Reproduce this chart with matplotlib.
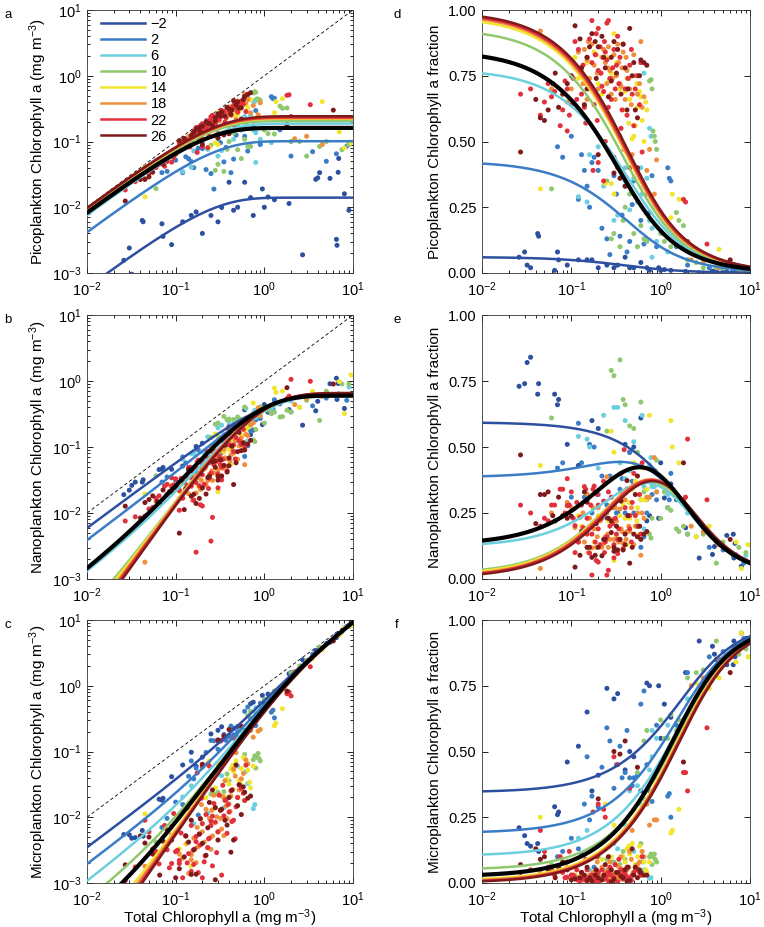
import numpy as np
import matplotlib
matplotlib.use('Agg')
import matplotlib.pyplot as plt
from matplotlib.ticker import LogLocator, FixedLocator, FormatStrFormatter, NullFormatter

plt.rcParams['font.family'] = ['Liberation Sans', 'DejaVu Sans']
plt.rcParams['mathtext.fontset'] = 'custom'
plt.rcParams['mathtext.rm'] = 'Liberation Sans'
plt.rcParams['mathtext.it'] = 'Liberation Sans:italic'
plt.rcParams['mathtext.bf'] = 'Liberation Sans:bold'

# ---------------- temperature classes ----------------
temp_labels = ['\u22122', '2', '6', '10', '14', '18', '22', '26']
colors = ['#2d4f9f', '#3a7cc6', '#6ccfe0', '#8fc86e', '#f2e52e', '#ef8f3c', '#e2303c', '#7f1a1a']

# model parameters (per class, then all data)
cm_pico = [0.014, 0.101, 0.187, 0.205, 0.222, 0.226, 0.232, 0.242]
d_pico = [0.061, 0.425, 0.775, 0.93, 0.975, 0.985, 0.99, 0.995]
cm_picnano = [0.62, 0.70, 0.78, 0.82, 0.85, 0.87, 0.88, 0.90]
d_picnano = [0.655, 0.81, 0.897, 0.95, 0.99, 0.994, 0.997, 0.999]
cm_pico_all = 0.161
d_pico_all = 0.845
cm_picnano_all = 0.76
d_picnano_all = 0.975

# ---------------- samples: total chl, pico fraction, micro fraction ----------------
chl_m2 = [0.026, 0.030, 0.032, 0.035, 0.042, 0.043, 0.065, 0.070, 0.072, 0.090, 0.120, 0.150,
          0.170, 0.200, 0.250, 0.300, 0.330, 0.400, 0.450, 0.500, 0.600, 0.700, 0.750, 0.950,
          1.000, 1.100, 1.300, 1.900, 2.700, 3.800, 4.000, 4.200, 5.500, 6.500, 6.600, 6.800,
          6.900, 8.000, 9.000]
pico_m2 = [0.06, 0.08, 0.03, 0.02, 0.15, 0.14, 0.01, 0.08, 0.05, 0.03, 0.05, 0.05,
           0.05, 0.02, 0.03, 0.02, 0.03, 0.06, 0.02, 0.02, 0.04, 0.02, 0.01, 0.02,
           0.01, 0.013, 0.01, 0.006, 0.0007, 0.007, 0.007, 0.008, 0.005, 0.0005, 0.0004, 0.005,
           0.008, 0.002, 0.001]
micro_m2 = [0.21, 0.18, 0.15, 0.14, 0.15, 0.12, 0.29, 0.26, 0.27, 0.46, 0.52, 0.65,
            0.35, 0.41, 0.74, 0.70, 0.72, 0.43, 0.50, 0.48, 0.35, 0.76, 0.75, 0.75,
            0.55, 0.68, 0.63, 0.80, 0.92, 0.90, 0.87, 0.85, 0.83, 0.83, 0.92, 0.86,
            0.90, 0.95, 0.93]

chl_2 = [0.070, 0.080, 0.100, 0.120, 0.130, 0.140, 0.150, 0.160, 0.170, 0.180, 0.200, 0.220,
         0.250, 0.270, 0.300, 0.320, 0.350, 0.370, 0.400, 0.420, 0.450, 0.480, 0.500, 0.550,
         0.600, 0.650, 0.700, 0.750, 0.800, 0.900, 1.200, 1.250, 1.300, 1.500, 2.000, 3.500,
         5.000, 6.500, 8.500]
pico_2 = [0.48, 0.44, 0.52, 0.28, 0.45, 0.39, 0.33, 0.25, 0.42, 0.44, 0.39, 0.17,
          0.13, 0.07, 0.37, 0.30, 0.14, 0.22, 0.33, 0.08, 0.12, 0.26, 0.35, 0.39,
          0.20, 0.11, 0.30, 0.23, 0.37, 0.10, 0.40, 0.36, 0.35, 0.10, 0.03, 0.02,
          0.01, 0.01, 0.01]
micro_2 = [0.10, 0.12, 0.17, 0.13, 0.11, 0.30, 0.48, 0.24, 0.33, 0.06, 0.29, 0.44,
           0.59, 0.54, 0.36, 0.45, 0.52, 0.40, 0.42, 0.58, 0.40, 0.37, 0.40, 0.41,
           0.68, 0.73, 0.45, 0.35, 0.31, 0.60, 0.33, 0.34, 0.25, 0.60, 0.80, 0.86,
           0.88, 0.90, 0.93]

chl_6 = [0.120, 0.150, 0.160, 0.200, 0.230, 0.300, 0.330, 0.350, 0.400, 0.400, 0.450, 0.500,
         0.550, 0.600, 0.620, 0.650, 0.650, 0.700, 0.750, 0.750, 0.780, 0.800, 0.800, 0.850,
         0.900, 1.200, 2.000, 9.000]
pico_6 = [0.29, 0.27, 0.45, 0.48, 0.33, 0.20, 0.22, 0.52, 0.40, 0.35, 0.24, 0.36,
          0.27, 0.40, 0.30, 0.33, 0.76, 0.36, 0.20, 0.55, 0.52, 0.17, 0.06, 0.25,
          0.12, 0.08, 0.05, 0.01]
micro_6 = [0.17, 0.20, 0.05, 0.10, 0.05, 0.15, 0.13, 0.04, 0.22, 0.05, 0.35, 0.12,
           0.37, 0.30, 0.08, 0.32, 0.05, 0.30, 0.43, 0.018, 0.02, 0.48, 0.58, 0.40,
           0.55, 0.60, 0.70, 0.90]

chl_10 = [0.060, 0.250, 0.280, 0.300, 0.350, 0.380, 0.400, 0.450, 0.500, 0.550, 0.600, 0.650,
          0.700, 0.750, 0.780, 0.800, 0.820, 0.850, 0.870, 0.900, 1.000, 1.100, 1.200, 1.300,
          1.500, 1.600, 1.800, 2.000, 2.500, 3.000, 4.200, 5.000, 7.500, 9.000]
pico_10 = [0.32, 0.35, 0.13, 0.15, 0.10, 0.20, 0.25, 0.30, 0.15, 0.10, 0.18, 0.13,
           0.12, 0.73, 0.735, 0.70, 0.54, 0.52, 0.50, 0.47, 0.15, 0.12, 0.18, 0.10,
           0.23, 0.20, 0.18, 0.05, 0.04, 0.02, 0.02, 0.02, 0.01, 0.01]
micro_10 = [0.07, 0.09, 0.08, 0.08, 0.07, 0.12, 0.09, 0.12, 0.28, 0.42, 0.15, 0.54,
            0.58, 0.10, 0.11, 0.07, 0.10, 0.11, 0.09, 0.08, 0.62, 0.55, 0.55, 0.64,
            0.58, 0.62, 0.62, 0.78, 0.80, 0.81, 0.92, 0.84, 0.87, 0.89]

chl_14 = [0.045, 0.110, 0.120, 0.150, 0.200, 0.220, 0.240, 0.250, 0.280, 0.280, 0.300, 0.300,
          0.350, 0.400, 0.420, 0.450, 0.480, 0.500, 0.520, 0.550, 0.580, 0.600, 0.650, 0.700,
          0.750, 1.300, 1.350, 1.600, 2.500, 3.500, 4.500, 7.000, 8.000, 9.500,
          0.130, 0.180, 0.260, 0.320, 0.380, 0.440, 0.540, 0.620, 0.680]
pico_14 = [0.32, 0.82, 0.74, 0.80, 0.72, 0.68, 0.34, 0.82, 0.76, 0.34, 0.91, 0.30,
           0.70, 0.69, 0.74, 0.66, 0.51, 0.52, 0.56, 0.63, 0.69, 0.67, 0.50, 0.62,
           0.30, 0.21, 0.30, 0.28, 0.08, 0.06, 0.09, 0.02, 0.01, 0.01,
           0.77, 0.84, 0.73, 0.80, 0.62, 0.57, 0.72, 0.58, 0.65]
micro_14 = [0.25, 0.03, 0.02, 0.012, 0.04, 0.09, 0.30, 0.02, 0.03, 0.10, 0.02, 0.22,
            0.06, 0.08, 0.13, 0.11, 0.15, 0.04, 0.07, 0.10, 0.14, 0.03, 0.08, 0.04,
            0.08, 0.19, 0.20, 0.28, 0.76, 0.74, 0.78, 0.84, 0.95, 0.86,
            0.03, 0.02, 0.05, 0.04, 0.10, 0.14, 0.06, 0.12, 0.05]

chl_18 = [0.045, 0.060, 0.100, 0.120, 0.130, 0.140, 0.150, 0.150, 0.160, 0.170, 0.180, 0.190,
          0.200, 0.210, 0.220, 0.240, 0.250, 0.250, 0.260, 0.270, 0.280, 0.300, 0.320, 0.340,
          0.350, 0.360, 0.380, 0.400, 0.420, 0.450, 0.500, 0.550, 0.600, 0.650, 0.700, 0.750,
          0.850, 0.900, 2.200, 3.000, 4.500,
          0.090, 0.110, 0.135, 0.155, 0.175, 0.195, 0.230, 0.255, 0.290, 0.310, 0.330, 0.370,
          0.410, 0.440, 0.470, 0.520, 0.580, 0.620, 0.480]
pico_18 = [0.92, 0.70, 0.70, 0.84, 0.78, 0.85, 0.81, 0.66, 0.74, 0.87, 0.79, 0.83,
           0.70, 0.76, 0.82, 0.80, 0.72, 0.60, 0.86, 0.77, 0.68, 0.83, 0.75, 0.80,
           0.72, 0.71, 0.84, 0.66, 0.77, 0.70, 0.83, 0.68, 0.88, 0.67, 0.39, 0.47,
           0.30, 0.43, 0.05, 0.04, 0.02,
           0.65, 0.78, 0.72, 0.88, 0.69, 0.76, 0.85, 0.78, 0.74, 0.66, 0.87, 0.78,
           0.82, 0.74, 0.64, 0.75, 0.72, 0.63, 0.45]
micro_18 = [0.04, 0.05, 0.03, 0.02, 0.04, 0.01, 0.015, 0.018, 0.03, 0.012, 0.02, 0.05,
            0.03, 0.02, 0.06, 0.04, 0.03, 0.013, 0.02, 0.08, 0.05, 0.02, 0.03, 0.06,
            0.015, 0.10, 0.025, 0.04, 0.05, 0.12, 0.04, 0.07, 0.03, 0.10, 0.30, 0.22,
            0.24, 0.24, 0.75, 0.78, 0.85,
            0.06, 0.025, 0.03, 0.02, 0.04, 0.08, 0.015, 0.05, 0.035, 0.07, 0.02, 0.04,
            0.03, 0.06, 0.09, 0.05, 0.08, 0.12, 0.20]

chl_22 = [0.027, 0.045, 0.050, 0.060, 0.065, 0.075, 0.085, 0.090, 0.090, 0.100, 0.110, 0.110,
          0.120, 0.125, 0.130, 0.140, 0.150, 0.150, 0.160, 0.170, 0.170, 0.175, 0.180, 0.190,
          0.200, 0.200, 0.200, 0.210, 0.220, 0.230, 0.230, 0.240, 0.250, 0.250, 0.260, 0.270,
          0.280, 0.300, 0.300, 0.320, 0.330, 0.330, 0.340, 0.360, 0.380, 0.400, 0.420, 0.450,
          0.480, 0.500, 0.550, 0.600, 0.620, 1.800, 1.900, 2.000, 3.300,
          0.035, 0.055, 0.080, 0.095, 0.105, 0.115, 0.135, 0.145, 0.165, 0.185, 0.195, 0.215,
          0.235, 0.260, 0.290, 0.310, 0.350, 0.370, 0.390, 0.430, 0.470, 0.520, 0.580, 0.450,
          0.240]
pico_22 = [0.68, 0.60, 0.65, 0.67, 0.69, 0.56, 0.73, 0.54, 0.70, 0.64, 0.88, 0.78,
           0.85, 0.76, 0.68, 0.63, 0.72, 0.82, 0.89, 0.80, 0.96, 0.39, 0.64, 0.91,
           0.77, 0.42, 0.93, 0.86, 0.71, 0.69, 0.35, 0.84, 0.81, 0.95, 0.96, 0.74,
           0.66, 0.85, 0.44, 0.79, 0.40, 0.90, 0.72, 0.55, 0.87, 0.70, 0.60, 0.79,
           0.68, 0.56, 0.75, 0.80, 0.46, 0.28, 0.27, 0.12, 0.11,
           0.70, 0.72, 0.62, 0.60, 0.74, 0.66, 0.79, 0.57, 0.70, 0.83, 0.58, 0.76,
           0.88, 0.63, 0.78, 0.70, 0.82, 0.62, 0.47, 0.74, 0.85, 0.70, 0.64, 0.40,
           0.50]
micro_22 = [0.04, 0.20, 0.12, 0.05, 0.03, 0.10, 0.02, 0.08, 0.022, 0.03, 0.02, 0.018,
            0.01, 0.006, 0.04, 0.02, 0.05, 0.010, 0.012, 0.03, 0.025, 0.27, 0.008, 0.02,
            0.04, 0.30, 0.006, 0.01, 0.05, 0.015, 0.28, 0.02, 0.03, 0.035, 0.007, 0.06,
            0.03, 0.02, 0.48, 0.04, 0.45, 0.004, 0.09, 0.05, 0.015, 0.03, 0.06, 0.02,
            0.03, 0.04, 0.05, 0.03, 0.10, 0.42, 0.42, 0.35, 0.59,
            0.05, 0.06, 0.04, 0.12, 0.03, 0.05, 0.015, 0.09, 0.02, 0.03, 0.10, 0.012,
            0.02, 0.04, 0.01, 0.07, 0.03, 0.05, 0.04, 0.02, 0.01, 0.06, 0.04, 0.36,
            0.25]

chl_26 = [0.027, 0.040, 0.045, 0.050, 0.055, 0.062, 0.066, 0.072, 0.100, 0.110, 0.125, 0.140,
          0.150, 0.150, 0.170, 0.185, 0.200, 0.200, 0.220, 0.240, 0.280, 0.280, 0.300, 0.300,
          0.330, 0.350, 0.360, 0.400, 0.400, 0.420, 0.450, 0.480, 0.520, 0.550, 0.550, 0.600,
          0.650, 1.800, 6.000,
          0.080, 0.090, 0.130, 0.160, 0.190, 0.230, 0.260, 0.320, 0.380, 0.430, 0.500, 0.580,
          0.700]
pico_26 = [0.46, 0.66, 0.59, 0.58, 0.62, 0.72, 0.76, 0.63, 0.75, 0.94, 0.89, 0.64,
           0.82, 0.70, 0.91, 0.88, 0.86, 0.45, 0.90, 0.78, 0.73, 0.82, 0.88, 0.38,
           0.85, 0.36, 0.68, 0.78, 0.33, 0.62, 0.93, 0.75, 0.62, 0.59, 0.40, 0.81,
           0.80, 0.10, 0.05,
           0.68, 0.72, 0.78, 0.86, 0.74, 0.82, 0.67, 0.76, 0.87, 0.70, 0.80, 0.75,
           0.79]
micro_26 = [0.07, 0.13, 0.09, 0.10, 0.05, 0.04, 0.02, 0.06, 0.012, 0.015, 0.02, 0.03,
            0.06, 0.009, 0.008, 0.03, 0.02, 0.32, 0.012, 0.07, 0.05, 0.004, 0.015, 0.50,
            0.04, 0.49, 0.025, 0.05, 0.54, 0.007, 0.01, 0.13, 0.06, 0.02, 0.44, 0.04,
            0.03, 0.46, 0.80,
            0.08, 0.05, 0.04, 0.02, 0.05, 0.03, 0.10, 0.04, 0.02, 0.06, 0.03, 0.05,
            0.03]

chl_groups = [chl_m2, chl_2, chl_6, chl_10, chl_14, chl_18, chl_22, chl_26]
pico_groups = [pico_m2, pico_2, pico_6, pico_10, pico_14, pico_18, pico_22, pico_26]
micro_groups = [micro_m2, micro_2, micro_6, micro_10, micro_14, micro_18, micro_22, micro_26]

# ---------------- figure ----------------
W, H = 764, 927
fig = plt.figure(figsize=(W / 100, H / 100), dpi=100)

def ax_at(left, top, right, bottom):
    return fig.add_axes([left / W, 1 - bottom / H, (right - left) / W, (bottom - top) / H])

rows = [(10, 273), (315, 579), (620, 883)]
axL = [ax_at(87, t, 353, b) for t, b in rows]
axR = [ax_at(482, t, 750, b) for t, b in rows]

xc = np.logspace(-2, 1, 400)

def model(C, cmp_, dp, cmpn, dpn):
    cp = cmp_ * (1 - np.exp(-dp / cmp_ * C))
    cpn = cmpn * (1 - np.exp(-dpn / cmpn * C))
    return cp, cpn - cp, C - cpn

names = ['Picoplankton', 'Nanoplankton', 'Microplankton']

# scatter
for g in range(8):
    C = np.array(chl_groups[g])
    fp = np.array(pico_groups[g])
    fm = np.array(micro_groups[g])
    fn = 1 - fp - fm
    fr = [fp, fn, fm]
    for k in range(3):
        axL[k].scatter(C, C * fr[k], s=13, color=colors[g], edgecolors='none', zorder=2)
        axR[k].scatter(C, fr[k], s=13, color=colors[g], edgecolors='none', zorder=2)

# curves
lines = []
for g in range(8):
    parts = model(xc, cm_pico[g], d_pico[g], cm_picnano[g], d_picnano[g])
    for k in range(3):
        l, = axL[k].plot(xc, parts[k], color=colors[g], lw=1.8, zorder=3)
        if k == 0:
            lines.append(l)
        axR[k].plot(xc, parts[k] / xc, color=colors[g], lw=1.8, zorder=3)
parts = model(xc, cm_pico_all, d_pico_all, cm_picnano_all, d_picnano_all)
for k in range(3):
    axL[k].plot(xc, parts[k], color='black', lw=3.0, zorder=4)
    axR[k].plot(xc, parts[k] / xc, color='black', lw=3.0, zorder=4)
    axL[k].plot([1e-2, 1e1], [1e-2, 1e1], color='black', lw=0.6, ls=(0, (4, 3)), zorder=1)

for k, ax in enumerate(axL):
    ax.set_xscale('log'); ax.set_yscale('log')
    ax.set_xlim(1e-2, 1e1); ax.set_ylim(1e-3, 1e1)
    ax.set_ylabel(names[k] + ' Chlorophyll a (mg m$^{\\mathregular{-3}}$)', fontsize=11, labelpad=2)
for k, ax in enumerate(axR):
    ax.set_xscale('log')
    ax.set_xlim(1e-2, 1e1); ax.set_ylim(0, 1)
    ax.yaxis.set_major_locator(FixedLocator([0, 0.25, 0.5, 0.75, 1.0]))
    ax.yaxis.set_major_formatter(FormatStrFormatter('%.2f'))
    ax.set_ylabel(names[k] + ' Chlorophyll a fraction', fontsize=11, labelpad=4)

for ax in axL + axR:
    ax.xaxis.set_major_locator(LogLocator(base=10, numticks=10))
    ax.xaxis.set_minor_locator(LogLocator(base=10, subs=np.arange(2, 10), numticks=10))
    ax.xaxis.set_minor_formatter(NullFormatter())
    ax.tick_params(which='both', direction='in', top=True, right=True, labelsize=10.5, width=0.6)
    ax.tick_params(which='major', length=4)
    ax.tick_params(which='minor', length=2)
    ax.tick_params(axis='x', which='major', pad=5)
    ax.tick_params(axis='y', which='major', pad=4)
    for s in ax.spines.values():
        s.set_linewidth(0.6)
        s.set_color('#333333')
for ax in axL:
    ax.yaxis.set_major_locator(LogLocator(base=10, numticks=10))
    ax.yaxis.set_minor_locator(LogLocator(base=10, subs=np.arange(2, 10), numticks=10))
    ax.yaxis.set_minor_formatter(NullFormatter())

for ax in (axL[2], axR[2]):
    ax.set_xlabel('Total Chlorophyll a (mg m$^{\\mathregular{-3}}$)', fontsize=11, labelpad=-1)

axL[0].legend(lines, temp_labels, loc='upper left', bbox_to_anchor=(0.025, 1.0), frameon=False,
              fontsize=10.5, handlelength=3.0, labelspacing=0.14, handletextpad=0.4,
              borderaxespad=0.3, borderpad=0.2)

for lab, (x, y) in zip('abcdef', [(8, 15), (8, 320), (8, 625), (397, 15), (397, 320), (397, 625)]):
    fig.text(x / W, 1 - y / H, lab, fontsize=9.5, va='center', ha='center')

fig.savefig('out.png', dpi=100)
